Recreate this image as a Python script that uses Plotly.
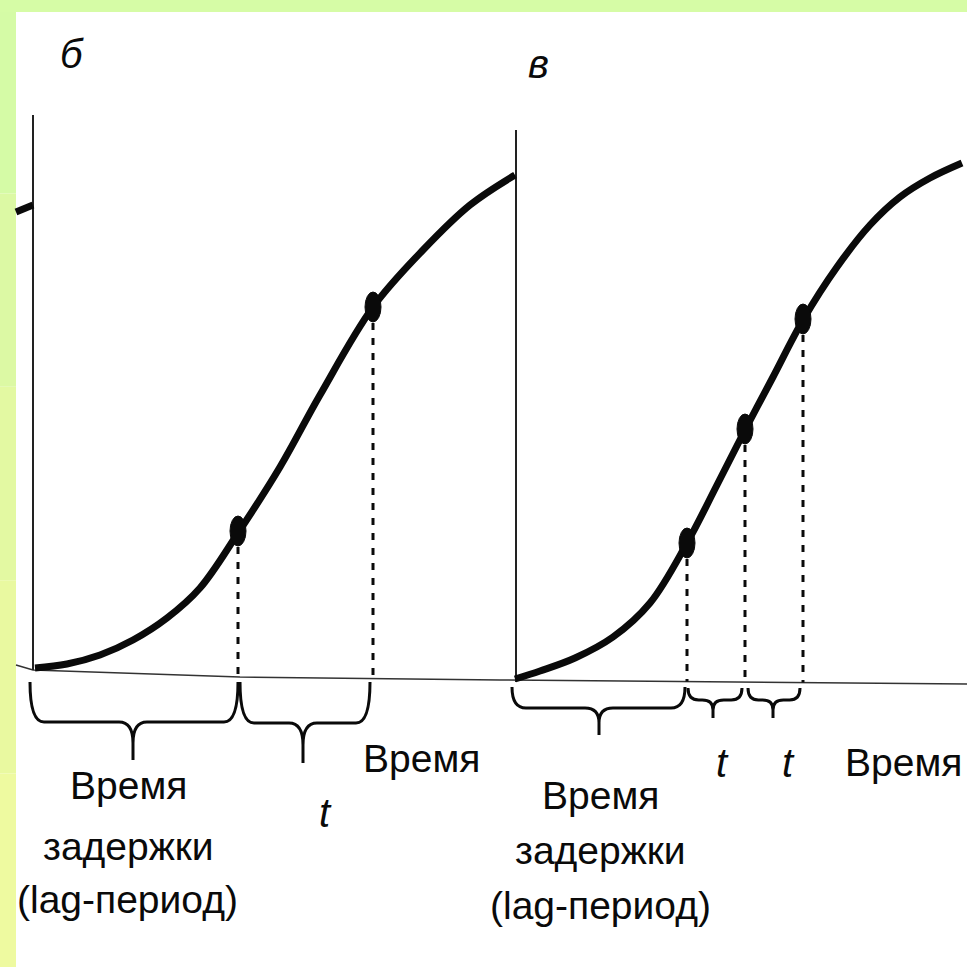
import plotly.graph_objects as go

# ---------------- data (figure units) ----------------
# growth curve of panel "б"
curve_b_x = [35, 67, 100, 133, 167, 200, 238, 280, 320, 373, 423, 470, 515]
curve_b_y = [668, 664, 655, 640, 618, 588, 533, 467, 395, 307, 250, 205, 175]
# growth curve of panel "в"
curve_c_x = [515, 540, 575, 613, 650, 687, 717, 745, 773, 803, 837, 870, 900, 930, 962]
curve_c_y = [679, 671, 658, 637, 603, 543, 485, 430, 377, 320, 267, 225, 197, 178, 163]
# tail of the previous panel at the left edge
tail_x = [16, 33]
tail_y = [212, 205]

# marked points (doubling points)
points_b_x = [238, 373]
points_b_y = [531, 307]
points_c_x = [687, 745, 803]
points_c_y = [543, 429, 319]

# baseline (time axis), y-axes
baseline_x = [16, 33, 240, 500, 967]
baseline_y = [665, 670, 677, 680, 684]
yaxis_b = dict(x=33, top=115, bottom=670)
yaxis_c = dict(x=516, top=130, bottom=682)

# braces: start x, end x, top y, flat y, tip x, tip y
braces = [
    (30, 238, 682, 722, 133, 760),
    (240, 370, 682, 723, 303, 763),
    (512, 685, 687, 708, 599, 735),
    (688, 742, 688, 700, 713, 718),
    (748, 800, 688, 700, 773, 718),
]

# labels: text, x, baseline y, italic
labels = [
    ("б", 72, 68, True),
    ("в", 538, 78, True),
    ("Время", 421, 773, False),
    ("t", 325, 827, True),
    ("Время", 128, 800, False),
    ("задержки", 128, 861, False),
    ("(lag-период)", 127, 914, False),
    ("Время", 903, 777, False),
    ("t", 722, 777, True),
    ("t", 788, 777, True),
    ("Время", 600, 810, False),
    ("задержки", 600, 865, False),
    ("(lag-период)", 600, 920, False),
]

FONT = "Liberation Sans, Arial, sans-serif"
FS = 39
INK = "#0a0a0a"

fig = go.Figure()

# baseline
fig.add_trace(go.Scatter(x=baseline_x, y=baseline_y, mode="lines",
                         line=dict(color="#333333", width=1.5), hoverinfo="skip"))
# y-axes
for ax in (yaxis_b, yaxis_c):
    fig.add_trace(go.Scatter(x=[ax["x"], ax["x"]], y=[ax["top"], ax["bottom"]], mode="lines",
                             line=dict(color="#222222", width=2), hoverinfo="skip"))

# dashed drop lines from the points to the baseline
def base_at(x):
    for i in range(len(baseline_x) - 1):
        if baseline_x[i] <= x <= baseline_x[i + 1]:
            t = (x - baseline_x[i]) / (baseline_x[i + 1] - baseline_x[i])
            return baseline_y[i] + t * (baseline_y[i + 1] - baseline_y[i])
    return baseline_y[-1]

for px, py in list(zip(points_b_x, points_b_y)) + list(zip(points_c_x, points_c_y)):
    fig.add_trace(go.Scatter(x=[px, px], y=[py + 16, base_at(px)], mode="lines",
                             line=dict(color=INK, width=3, dash="7px,8px"), hoverinfo="skip"))

# curves
for cx, cy in ((curve_b_x, curve_b_y), (curve_c_x, curve_c_y), (tail_x, tail_y)):
    fig.add_trace(go.Scatter(x=cx, y=cy, mode="lines",
                             line=dict(color=INK, width=7, shape="spline", smoothing=1.0),
                             hoverinfo="skip"))

shapes = []
# green frame (style)
greens = ["#d5fba6", "#dcf9a4", "#e3f9a2", "#e9f9a0", "#eefaa0"]
n = len(greens)
for i, g in enumerate(greens):
    shapes.append(dict(type="rect", xref="paper", yref="paper", x0=0, x1=16 / 967,
                       y0=1 - (i + 1) / n, y1=1 - i / n, fillcolor=g, line_width=0, layer="below"))
shapes.append(dict(type="rect", xref="paper", yref="paper", x0=0, x1=1,
                   y0=1 - 12 / 967, y1=1, fillcolor="#d6fca6", line_width=0, layer="below"))

# dots
for px, py in list(zip(points_b_x, points_b_y)) + list(zip(points_c_x, points_c_y)):
    shapes.append(dict(type="circle", xref="x", yref="y", x0=px - 8, x1=px + 8,
                       y0=py - 15, y1=py + 15, fillcolor=INK, line=dict(color=INK, width=1)))

# braces
for x0, x1, yt, ym, xt, ytip in braces:
    r = min(14, (x1 - x0) / 5)
    mid = ym + (ytip - ym) * 0.55
    path = (f"M {x0},{yt} Q {x0},{ym} {x0 + r},{ym} L {xt - r},{ym} "
            f"Q {xt},{ym} {xt},{mid} L {xt},{ytip} L {xt},{mid} "
            f"Q {xt},{ym} {xt + r},{ym} L {x1 - r},{ym} Q {x1},{ym} {x1},{yt}")
    shapes.append(dict(type="path", xref="x", yref="y", path=path,
                       line=dict(color=INK, width=3)))

annotations = []
for text, x, yb, it in labels:
    size = 40 if it else FS
    annotations.append(dict(
        x=x, y=yb - 0.36 * size, xref="x", yref="y", text=text, showarrow=False,
        xanchor="center", yanchor="middle",
        font=dict(family=FONT, size=size, color=INK, style="italic" if it else "normal")))

fig.update_layout(
    width=967, height=967, autosize=False,
    margin=dict(l=0, r=0, t=0, b=0, pad=0),
    paper_bgcolor="white", plot_bgcolor="rgba(0,0,0,0)",
    showlegend=False,
    xaxis=dict(range=[0, 967], visible=False, fixedrange=True),
    yaxis=dict(range=[967, 0], visible=False, fixedrange=True),
    shapes=shapes, annotations=annotations,
)

fig.write_html("out.html", config={"displayModeBar": False},
               post_script="document.body.style.margin='0px';document.body.style.overflow='hidden';")
